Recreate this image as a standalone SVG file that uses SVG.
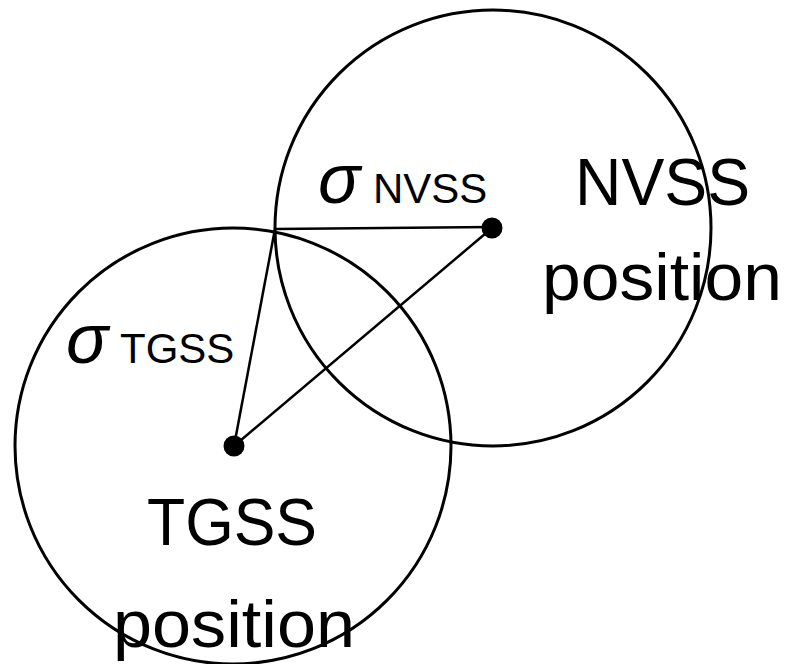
<svg xmlns="http://www.w3.org/2000/svg" width="789" height="664" viewBox="0 0 789 664">
<style>
.ring{fill:none;stroke:#000;stroke-width:3}
.edge{stroke:#000;stroke-width:2.5;fill:none}
.dot{fill:#000}
text{font-family:"Liberation Sans",Arial,sans-serif;fill:#000}
.big{font-size:66px}
.sub{font-size:42px}
.sig{font-size:70px;font-style:italic}
</style>
<rect width="789" height="664" fill="#fff"/>
<g id="nvss">
<circle class="ring" cx="493" cy="228" r="218"/>
<circle class="dot" cx="492" cy="228" r="10.5"/>
<text class="big" x="575" y="205" textLength="175" lengthAdjust="spacingAndGlyphs">NVSS</text>
<text class="big" x="542" y="300" textLength="240" lengthAdjust="spacingAndGlyphs">position</text>
</g>
<g id="tgss">
<circle class="ring" cx="233" cy="446" r="218"/>
<circle class="dot" cx="234" cy="446" r="10.5"/>
<text class="big" x="147" y="545" textLength="170" lengthAdjust="spacingAndGlyphs">TGSS</text>
<text class="big" x="113" y="647" textLength="242" lengthAdjust="spacingAndGlyphs">position</text>
</g>
<g id="connectors">
<line class="edge" x1="275" y1="229" x2="492" y2="227"/>
<line class="edge" x1="275" y1="229" x2="234" y2="446"/>
<line class="edge" x1="234" y1="446" x2="492" y2="228"/>
</g>
<g id="labels">
<text x="318" y="203"><tspan class="sig">σ</tspan><tspan class="sub" x="373">NVSS</tspan></text>
<text x="66" y="363"><tspan class="sig">σ</tspan><tspan class="sub" x="120">TGSS</tspan></text>
</g>
</svg>
